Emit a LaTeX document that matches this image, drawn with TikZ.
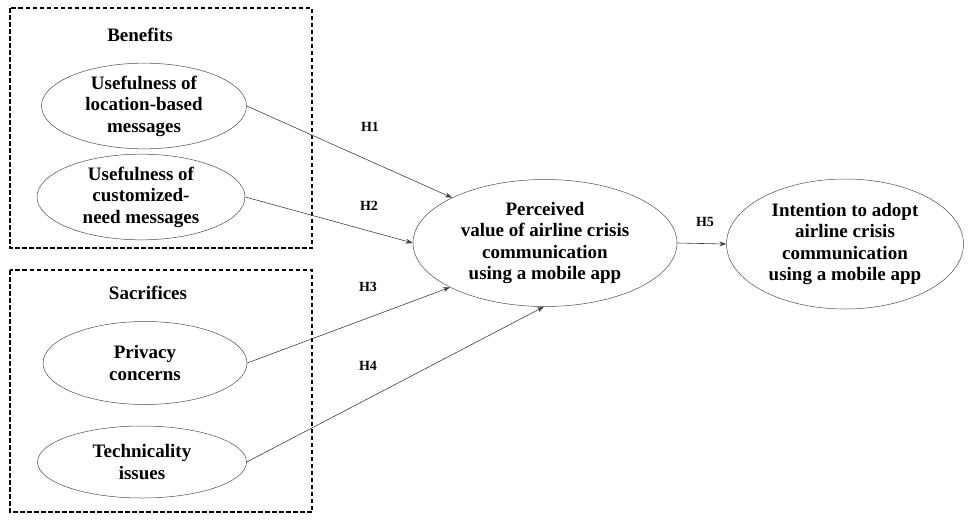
\documentclass[tikz,border=0pt]{standalone}
\usepackage{fontspec}
\setmainfont{Liberation Serif}
\usetikzlibrary{shapes.geometric,arrows.meta}
\begin{document}
\begin{tikzpicture}[x=1pt,y=-1pt,
  lat/.style={ellipse,draw=black!70,line width=0.5pt,inner sep=0pt,align=center,
    font=\fontsize{19}{21.5}\selectfont\bfseries},
  grp/.style={draw=black,line width=1.3pt,dash pattern=on 4.5pt off 2.5pt},
  ttl/.style={font=\fontsize{19}{21.5}\selectfont\bfseries},
  hyp/.style={font=\fontsize{14}{16}\selectfont\bfseries},
  conn/.style={draw=black!75,line width=0.6pt,-{Stealth[length=7pt,width=5pt]}}]
\useasboundingbox (0,0) rectangle (969,520);
% group boxes
\draw[grp] (10,8) rectangle (312,248);
\draw[grp] (10,270) rectangle (312,512);
\node[ttl] (ben) at (140,35) {Benefits};
\node[ttl] (sac) at (148,293) {Sacrifices};
% constructs
\node[lat,minimum width=205pt,minimum height=76pt] (e1) at (144,106)
  {Usefulness of\\location-based\\messages};
\node[lat,minimum width=208pt,minimum height=76pt] (e2) at (141,197)
  {Usefulness of\\customized-\\need messages};
\node[lat,minimum width=204pt,minimum height=83pt] (e3) at (145,363)
  {Privacy\\concerns};
\node[lat,minimum width=209pt,minimum height=72pt] (e4) at (142,462)
  {Technicality\\issues};
\node[lat,minimum width=264pt,minimum height=127pt] (pv) at (545,243)
  {Perceived\\value of airline crisis\\communication\\using a mobile app};
\node[lat,minimum width=237pt,minimum height=130pt] (iv) at (845,244)
  {Intention to adopt\\airline crisis\\communication\\using a mobile app};
% connectors
\draw[conn] (e1.east) -- (pv.154.2);
\draw[conn] (e2.east) -- (pv.west);
\draw[conn] (e3.east) -- (pv.205.3);
\draw[conn] (e4.east) -- (pv.269);
\draw[conn] (pv.east) -- (iv.west);
% labels
\node[hyp] (h1) at (370,127) {H1};
\node[hyp] (h2) at (369,206) {H2};
\node[hyp] (h3) at (368,287) {H3};
\node[hyp] (h4) at (368,366) {H4};
\node[hyp] (h5) at (705,222) {H5};
\end{tikzpicture}
\end{document}
